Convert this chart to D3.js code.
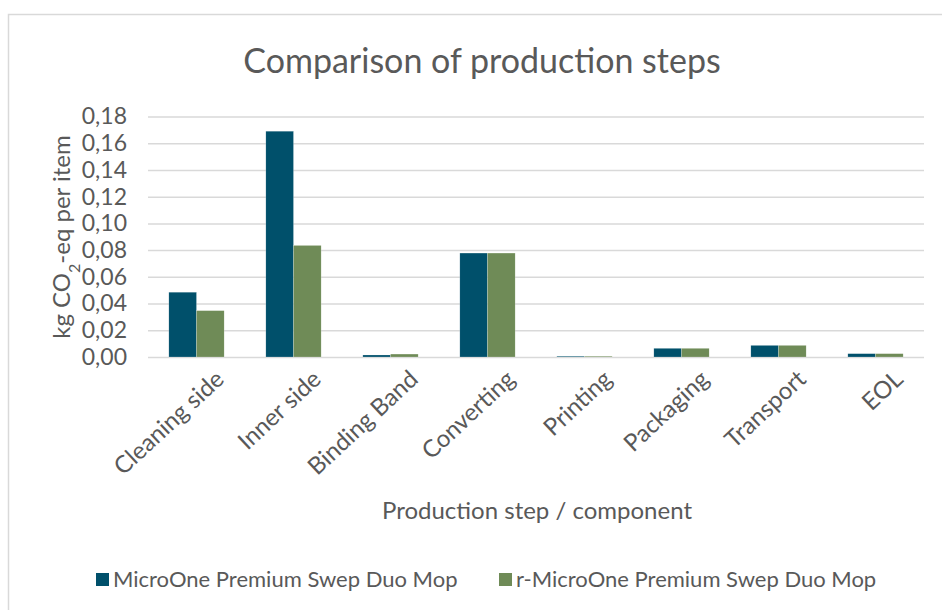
<!DOCTYPE html>
<html>
<head>
<meta charset="utf-8">
<script src="https://cdn.jsdelivr.net/npm/d3@7"></script>
<style>
  body { margin: 0; background: #fff; }
  text { font-family: Lato, "Open Sans", sans-serif; fill: #595959; }
</style>
</head>
<body>
<div id="chart"></div>
<script>
// data
var steps = ["Cleaning side", "Inner side", "Binding Band", "Converting", "Printing", "Packaging", "Transport", "EOL"];
var seriesNames = ["MicroOne Premium Swep Duo Mop", "r-MicroOne Premium Swep Duo Mop"];
var microOne = [0.0485, 0.169, 0.0015, 0.0778, 0.0006, 0.0065, 0.0087, 0.0025];
var rMicroOne = [0.0347, 0.0835, 0.0022, 0.0778, 0.0006, 0.0065, 0.0087, 0.0025];
var yTicks = [0, 0.02, 0.04, 0.06, 0.08, 0.10, 0.12, 0.14, 0.16, 0.18];
var colors = ["#00506b", "#6f8b57"];

var W = 942, H = 610;
var margin = {top: 116.5, right: 18, bottom: 253, left: 148};
var width = W - margin.left - margin.right;
var height = H - margin.top - margin.bottom;

var svg = d3.select("#chart").append("svg")
    .attr("width", W)
    .attr("height", H);

// chart border
svg.append("rect")
    .attr("x", 8.5).attr("y", 14.5)
    .attr("width", W + 10).attr("height", H + 10)
    .attr("fill", "none")
    .attr("stroke", "#d9d9d9")
    .attr("stroke-width", 1.5);

var g = svg.append("g")
    .attr("transform", "translate(" + margin.left + "," + margin.top + ")");

var x = d3.scaleBand().domain(steps).range([0, width]).paddingInner(0.43).paddingOuter(0.215);
var xs = d3.scaleBand().domain([0, 1]).range([0, x.bandwidth()]);
var y = d3.scaleLinear().domain([0, 0.18]).range([height, 0]);

// gridlines
g.append("g")
    .call(d3.axisLeft(y).tickValues(yTicks).tickSize(-width).tickFormat(""))
    .call(function(a) {
        a.select(".domain").remove();
        a.selectAll("line").attr("stroke", "#d9d9d9").attr("stroke-width", 1.5);
    });

// tick labels
g.append("g")
    .call(d3.axisLeft(y).tickValues(yTicks).tickSize(0).tickPadding(21)
        .tickFormat(function(d) { return d3.format(".2f")(d).replace(".", ","); }))
    .call(function(a) {
        a.select(".domain").remove();
        a.selectAll("text").style("font-size", "23px").attr("fill", "#595959");
    });

var rows = steps.map(function(s, i) { return {step: s, vals: [microOne[i], rMicroOne[i]]}; });

var groups = g.selectAll(".grp")
    .data(rows)
    .enter().append("g")
    .attr("transform", function(d) { return "translate(" + x(d.step) + ",0)"; });

groups.selectAll("rect")
    .data(function(d) { return d.vals.map(function(v, k) { return {k: k, v: v}; }); })
    .enter().append("rect")
    .attr("x", function(d) { return xs(d.k); })
    .attr("width", xs.bandwidth())
    .attr("y", function(d) { return y(d.v); })
    .attr("height", function(d) { return height - y(d.v); })
    .attr("fill", function(d) { return colors[d.k]; })
    .attr("stroke", "#ffffff")
    .attr("stroke-opacity", 0.5)
    .attr("stroke-width", 0.4);

// x labels
g.append("g")
    .attr("transform", "translate(0," + height + ")")
    .call(d3.axisBottom(x).tickSize(0).tickPadding(0))
    .call(function(a) {
        a.select(".domain").remove();
        a.selectAll("text")
            .style("font-size", "24px")
            .attr("fill", "#595959")
            .attr("text-anchor", "end")
            .attr("dy", null)
            .attr("transform", "translate(29,24) rotate(-43)");
    });

// title
svg.append("text")
    .attr("x", 482).attr("y", 73)
    .attr("text-anchor", "middle")
    .style("font-size", "34px")
    .text("Comparison of production steps");

// y axis title
var yt = svg.append("text")
    .attr("transform", "translate(70,237) rotate(-90)")
    .attr("text-anchor", "middle")
    .style("font-size", "24px");
yt.append("tspan").text("kg CO");
yt.append("tspan").attr("baseline-shift", "sub").style("font-size", "16px").text("2");
yt.append("tspan").text("-eq per item");

// x axis title
svg.append("text")
    .attr("x", 537).attr("y", 519)
    .attr("text-anchor", "middle")
    .style("font-size", "24px")
    .text("Production step / component");

// legend
var legX = [96, 499];
var leg = svg.selectAll(".leg")
    .data(seriesNames)
    .enter().append("g")
    .attr("transform", function(d, i) { return "translate(" + legX[i] + ",573)"; });
leg.append("rect")
    .attr("width", 13).attr("height", 13)
    .attr("fill", function(d, i) { return colors[i]; });
leg.append("text")
    .attr("x", 17).attr("y", 14)
    .style("font-size", "22px")
    .text(function(d) { return d; });
</script>
</body>
</html>
